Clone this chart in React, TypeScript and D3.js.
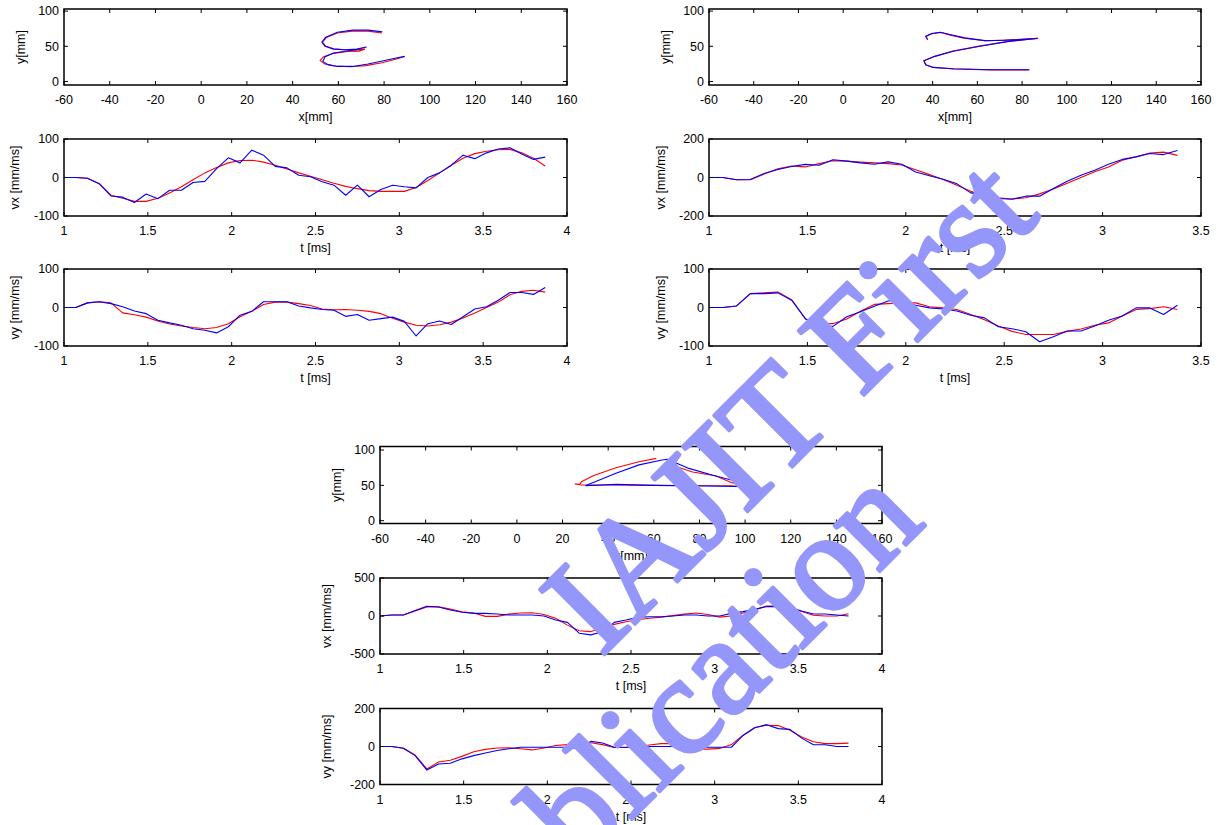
import React from 'react';
import * as d3 from 'd3';

// ---------- time grids ----------
const tLeft = [1.00,1.07,1.14,1.21,1.28,1.35,1.42,1.49,1.56,1.63,1.70,1.77,1.84,1.91,1.98,2.05,2.12,2.19,2.26,2.33,2.40,2.47,2.54,2.61,2.68,2.75,2.82,2.89,2.96,3.03,3.10,3.17,3.24,3.31,3.38,3.45,3.52,3.59,3.66,3.73,3.80,3.87];
const tRight = [1.00,1.07,1.14,1.21,1.28,1.35,1.42,1.49,1.56,1.63,1.70,1.77,1.84,1.91,1.98,2.05,2.12,2.19,2.26,2.33,2.40,2.47,2.54,2.61,2.68,2.75,2.82,2.89,2.96,3.03,3.10,3.17,3.24,3.31,3.38];
const tBottom = [1.00,1.07,1.14,1.21,1.28,1.35,1.42,1.49,1.56,1.63,1.70,1.77,1.84,1.91,1.98,2.05,2.12,2.19,2.26,2.33,2.40,2.47,2.54,2.61,2.68,2.75,2.82,2.89,2.96,3.03,3.10,3.17,3.24,3.31,3.38,3.45,3.52,3.59,3.66,3.73,3.80];

// ---------- left column ----------
const trajLeftBlueX = [79.2,73,66.3,59.6,54.5,52.8,54.2,57.9,62.9,68,72.2,68,63,57.9,54.2,53.2,55.4,59.6,66.3,73,79.7,84.8,89];
const trajLeftBlueY = [70.5,73,73,70,63,56,50,46,45,46,49,45,43,40.5,35,28.6,24,21.4,21.4,24.8,29.5,33,35.7];
const trajLeftRedX = [79,73,66,59.5,55,53,54.5,58,63,68,71.5,69,64,58,53.5,52,54,58.5,65,72,79,85,89];
const trajLeftRedY = [69,71.5,71.5,69,63,56,50,46.5,45,44.5,46,43,42.5,40,35,30,25,22,21,22.5,26.5,31.5,35.5];
const vxLeftBlue = [0,0,-2,-16,-48,-51,-65,-43,-55,-33,-33,-13,-10,23,51,38,71,58,29,25,6,2,-11,-20,-46,-20,-50,-31,-20,-24,-27,0,12,32,58,49,64,74,77,61,47,53];
const vxLeftRed = [0,0,-2,-16,-46,-54,-62,-62,-54,-40,-24,-6,12,26,38,44,45,40,32,22,12,3,-6,-15,-23,-29,-34,-36,-36,-36,-26,-8,12,32,50,62,68,72,73,64,50,30];
const vyLeftBlue = [0,0,12,15,10,2,-9,-16,-33,-40,-46,-55,-59,-66,-50,-20,-10,15,15,15,4,-1,-5,-7,-23,-18,-33,-29,-25,-36,-74,-42,-35,-44,-24,-4,2,19,39,39,34,52];
const vyLeftRed = [0,0,12,15,12,-14,-19,-25,-35,-43,-48,-52,-55,-52,-42,-24,-10,8,14,14,10,5,-4,-6,-5,-7,-10,-16,-28,-38,-46,-48,-45,-38,-27,-14,0,14,33,42,45,40];

// ---------- right column ----------
const trajRightBlueX = [37.7,36.9,39.4,43.5,47.7,54.3,63.4,72.5,80.8,86.6,74.2,61,49.3,41,36,36.9,40.2,49.3,65.9,83.3];
const trajRightBlueY = [59.5,64.3,68,70,66.7,62,58,58.6,60,61,57,50,43,35.7,29.5,23.8,20,18,16.7,16.7];
const trajRightRedX = [37.8,37,39.5,43.6,47.5,54,63.5,72.5,81,87,74,61,49,41,36.2,37,40.5,49.5,66,83];
const trajRightRedY = [59.3,64,67.8,69.6,66.2,61.6,57.8,58.8,60.2,61.2,57.2,50.3,43.2,35.8,29.3,23.5,19.8,17.8,16.5,16.5];
const vxRightBlue = [0,0,-12,-10,21,42,57,68,64,92,85,76,69,81,69,29,9,-9,-33,-80,-92,-109,-113,-97,-97,-57,-19,12,38,69,94,107,125,119,140];
const vxRightRed = [0,0,-12,-12,18,45,60,55,72,87,85,80,76,72,65,40,15,-10,-40,-72,-95,-105,-112,-105,-85,-60,-30,0,30,55,90,108,127,132,115];
const vyRightBlue = [0,0,4,36,36,38,19,-29,-48,-49,-24,-11,3,17,21,6,-1,-4,-9,-20,-27,-50,-55,-63,-89,-76,-61,-61,-48,-33,-22,-1,-1,-18,6];
const vyRightRed = [0,0,4,36,38,40,20,-30,-42,-42,-30,-10,8,10,12,12,2,-1,-5,-18,-32,-48,-62,-70,-70,-70,-62,-56,-46,-40,-22,-5,-3,2,-5];

// ---------- bottom group ----------
const trajBottomBlueX = [30,43.4,53.5,63.6,66,75.4,85.5,93.9,101.5,77,60,43.4,30];
const trajBottomBlueY = [49.5,67,79,86,87,74,64.6,57.5,48,49.5,50,51.4,49.5];
const trajBottomRedX = [61.1,53.5,43.4,33.4,28.3,27.5,25.5,28.3,43.4,60.3,77,93.9,100.6,93.9,87,77,70.4,66];
const trajBottomRedY = [88.2,83.5,75,63.7,55,51.4,52,50.5,50.5,50,49.5,49.5,48,54,63.7,69,76,82.5];
const vxBottomBlue = [0,13,13,71,128,119,80,49,35,35,27,13,13,13,0,-53,-84,-226,-248,-208,-84,-53,-18,-9,-9,0,13,13,0,0,35,58,88,124,124,110,66,27,27,13,0];
const vxBottomRed = [0,13,13,65,120,120,90,55,40,-5,-5,25,40,42,20,-30,-120,-195,-205,-160,-110,-75,-50,-30,-15,5,25,40,20,-15,0,40,80,130,130,110,60,10,0,0,30];
const vyBottomBlue = [0,0,-9,-48,-124,-92,-88,-65,-48,-34,-21,-12,-4,-4,-4,-4,-4,-12,27,18,-4,-4,0,0,0,0,-4,-7,-4,-4,-4,58,99,115,94,90,44,9,9,0,0];
const vyBottomRed = [0,0,-9,-45,-118,-82,-72,-52,-28,-15,-8,-7,-12,-18,-8,5,10,15,20,10,-5,-5,-2,8,15,15,5,-14,-14,-10,10,60,100,112,110,85,50,25,15,15,18];

// ---------- ticks ----------
const xTicksMM = [-60,-40,-20,0,20,40,60,80,100,120,140,160];
const yTicksMM = [0,50,100];
const tTicks4 = [1,1.5,2,2.5,3,3.5,4];
const tTicks35 = [1,1.5,2,2.5,3,3.5];
const yTicks100 = [-100,0,100];
const yTicks200 = [-200,0,200];
const yTicks500 = [-500,0,500];

const FONT = 'Liberation Sans, Arial, sans-serif';
const RED = '#ff0000';
const BLUE = '#0000ff';

type Series = { xs: number[]; ys: number[]; color: string };
type PanelProps = {
  x0: number; y0: number; w: number; h: number;
  xDomain: [number, number]; yDomain: [number, number];
  xTicks: number[]; yTicks: number[];
  xLabel: string; yLabel: string; yLabelOff: number;
  series: Series[];
};

function Panel(p: PanelProps) {
  const xs = d3.scaleLinear().domain(p.xDomain).range([p.x0, p.x0 + p.w]);
  const ys = d3.scaleLinear().domain(p.yDomain).range([p.y0 + p.h, p.y0]);
  const tl = 4;
  const bottom = p.y0 + p.h;
  const right = p.x0 + p.w;
  return (
    <g>
      {p.series.map((s, i) => {
        const pts: [number, number][] = s.xs.map((v, k) => [v, s.ys[k]]);
        const line = d3.line<[number, number]>().x(d => xs(d[0])).y(d => ys(d[1]));
        return <path key={i} d={line(pts) || ''} fill="none" stroke={s.color} strokeWidth={1.1} strokeLinejoin="round" />;
      })}
      {p.xTicks.map((t, i) => (
        <g key={'x' + i}>
          <line x1={xs(t)} x2={xs(t)} y1={bottom} y2={bottom - tl} stroke="#000" strokeWidth={1} />
          <line x1={xs(t)} x2={xs(t)} y1={p.y0} y2={p.y0 + tl} stroke="#000" strokeWidth={1} />
          <text x={xs(t)} y={bottom + 19} textAnchor="middle" fontSize={12.5} fontFamily={FONT} fill="#000">{String(t)}</text>
        </g>
      ))}
      {p.yTicks.map((t, i) => (
        <g key={'y' + i}>
          <line x1={p.x0} x2={p.x0 + tl} y1={ys(t)} y2={ys(t)} stroke="#000" strokeWidth={1} />
          <line x1={right} x2={right - tl} y1={ys(t)} y2={ys(t)} stroke="#000" strokeWidth={1} />
          <text x={p.x0 - 5} y={ys(t)} dy="0.35em" textAnchor="end" fontSize={12.5} fontFamily={FONT} fill="#000">{String(t)}</text>
        </g>
      ))}
      <rect x={p.x0} y={p.y0} width={p.w} height={p.h} fill="none" stroke="#000" strokeWidth={1.5} />
      <text x={p.x0 + p.w / 2} y={bottom + 36} textAnchor="middle" fontSize={12.5} fontFamily={FONT} fill="#000">{p.xLabel}</text>
      <text transform={`translate(${p.x0 - p.yLabelOff},${p.y0 + p.h / 2}) rotate(-90)`} dy="0.35em" textAnchor="middle" fontSize={12.5} fontFamily={FONT} fill="#000">{p.yLabel}</text>
    </g>
  );
}

export default function App() {
  const L = { x0: 64, w: 503 };
  const R = { x0: 709, w: 492 };
  const B = { x0: 380, w: 502 };
  const rows = { r1: [9, 76], r2: [139, 77], r3: [269, 77] };
  return (
    <svg width={1218} height={825} style={{ position: 'absolute', left: 0, top: 0, background: '#fff' }}>
      <rect x={0} y={0} width={1218} height={825} fill="#fff" />
      {/* left column */}
      <Panel x0={L.x0} w={L.w} y0={rows.r1[0]} h={rows.r1[1]} xDomain={[-60, 160]} yDomain={[-5, 103]}
        xTicks={xTicksMM} yTicks={yTicksMM} xLabel="x[mm]" yLabel="y[mm]" yLabelOff={43}
        series={[{ xs: trajLeftRedX, ys: trajLeftRedY, color: RED }, { xs: trajLeftBlueX, ys: trajLeftBlueY, color: BLUE }]} />
      <Panel x0={L.x0} w={L.w} y0={rows.r2[0]} h={rows.r2[1]} xDomain={[1, 4]} yDomain={[-100, 100]}
        xTicks={tTicks4} yTicks={yTicks100} xLabel="t [ms]" yLabel="vx [mm/ms]" yLabelOff={49}
        series={[{ xs: tLeft, ys: vxLeftRed, color: RED }, { xs: tLeft, ys: vxLeftBlue, color: BLUE }]} />
      <Panel x0={L.x0} w={L.w} y0={rows.r3[0]} h={rows.r3[1]} xDomain={[1, 4]} yDomain={[-100, 100]}
        xTicks={tTicks4} yTicks={yTicks100} xLabel="t [ms]" yLabel="vy [mm/ms]" yLabelOff={49}
        series={[{ xs: tLeft, ys: vyLeftRed, color: RED }, { xs: tLeft, ys: vyLeftBlue, color: BLUE }]} />
      {/* right column */}
      <Panel x0={R.x0} w={R.w} y0={rows.r1[0]} h={rows.r1[1]} xDomain={[-60, 160]} yDomain={[-5, 103]}
        xTicks={xTicksMM} yTicks={yTicksMM} xLabel="x[mm]" yLabel="y[mm]" yLabelOff={43}
        series={[{ xs: trajRightRedX, ys: trajRightRedY, color: RED }, { xs: trajRightBlueX, ys: trajRightBlueY, color: BLUE }]} />
      <Panel x0={R.x0} w={R.w} y0={rows.r2[0]} h={rows.r2[1]} xDomain={[1, 3.5]} yDomain={[-200, 200]}
        xTicks={tTicks35} yTicks={yTicks200} xLabel="t [ms]" yLabel="vx [mm/ms]" yLabelOff={48}
        series={[{ xs: tRight, ys: vxRightRed, color: RED }, { xs: tRight, ys: vxRightBlue, color: BLUE }]} />
      <Panel x0={R.x0} w={R.w} y0={rows.r3[0]} h={rows.r3[1]} xDomain={[1, 3.5]} yDomain={[-100, 100]}
        xTicks={tTicks35} yTicks={yTicks100} xLabel="t [ms]" yLabel="vy [mm/ms]" yLabelOff={48}
        series={[{ xs: tRight, ys: vyRightRed, color: RED }, { xs: tRight, ys: vyRightBlue, color: BLUE }]} />
      {/* bottom group */}
      <Panel x0={B.x0} w={B.w} y0={446.5} h={77} xDomain={[-60, 160]} yDomain={[-4, 105]}
        xTicks={xTicksMM} yTicks={yTicksMM} xLabel="x[mm]" yLabel="y[mm]" yLabelOff={43}
        series={[{ xs: trajBottomRedX, ys: trajBottomRedY, color: RED }, { xs: trajBottomBlueX, ys: trajBottomBlueY, color: BLUE }]} />
      <Panel x0={B.x0} w={B.w} y0={578} h={76} xDomain={[1, 4]} yDomain={[-500, 500]}
        xTicks={tTicks4} yTicks={yTicks500} xLabel="t [ms]" yLabel="vx [mm/ms]" yLabelOff={53}
        series={[{ xs: tBottom, ys: vxBottomRed, color: RED }, { xs: tBottom, ys: vxBottomBlue, color: BLUE }]} />
      <Panel x0={B.x0} w={B.w} y0={708.5} h={76} xDomain={[1, 4]} yDomain={[-200, 200]}
        xTicks={tTicks4} yTicks={yTicks200} xLabel="t [ms]" yLabel="vy [mm/ms]" yLabelOff={53}
        series={[{ xs: tBottom, ys: vyBottomRed, color: RED }, { xs: tBottom, ys: vyBottomBlue, color: BLUE }]} />
      {/* watermark */}
      <g fill="#9496f9" stroke="#9496f9" strokeWidth={3.5} strokeLinejoin="round"
        fontFamily="Liberation Serif, Times New Roman, serif" fontSize={140}>
        <text transform="translate(601,658) rotate(-45)">IAJIT First</text>
        <text transform="translate(476,975) rotate(-45)">Publication</text>
      </g>
    </svg>
  );
}
